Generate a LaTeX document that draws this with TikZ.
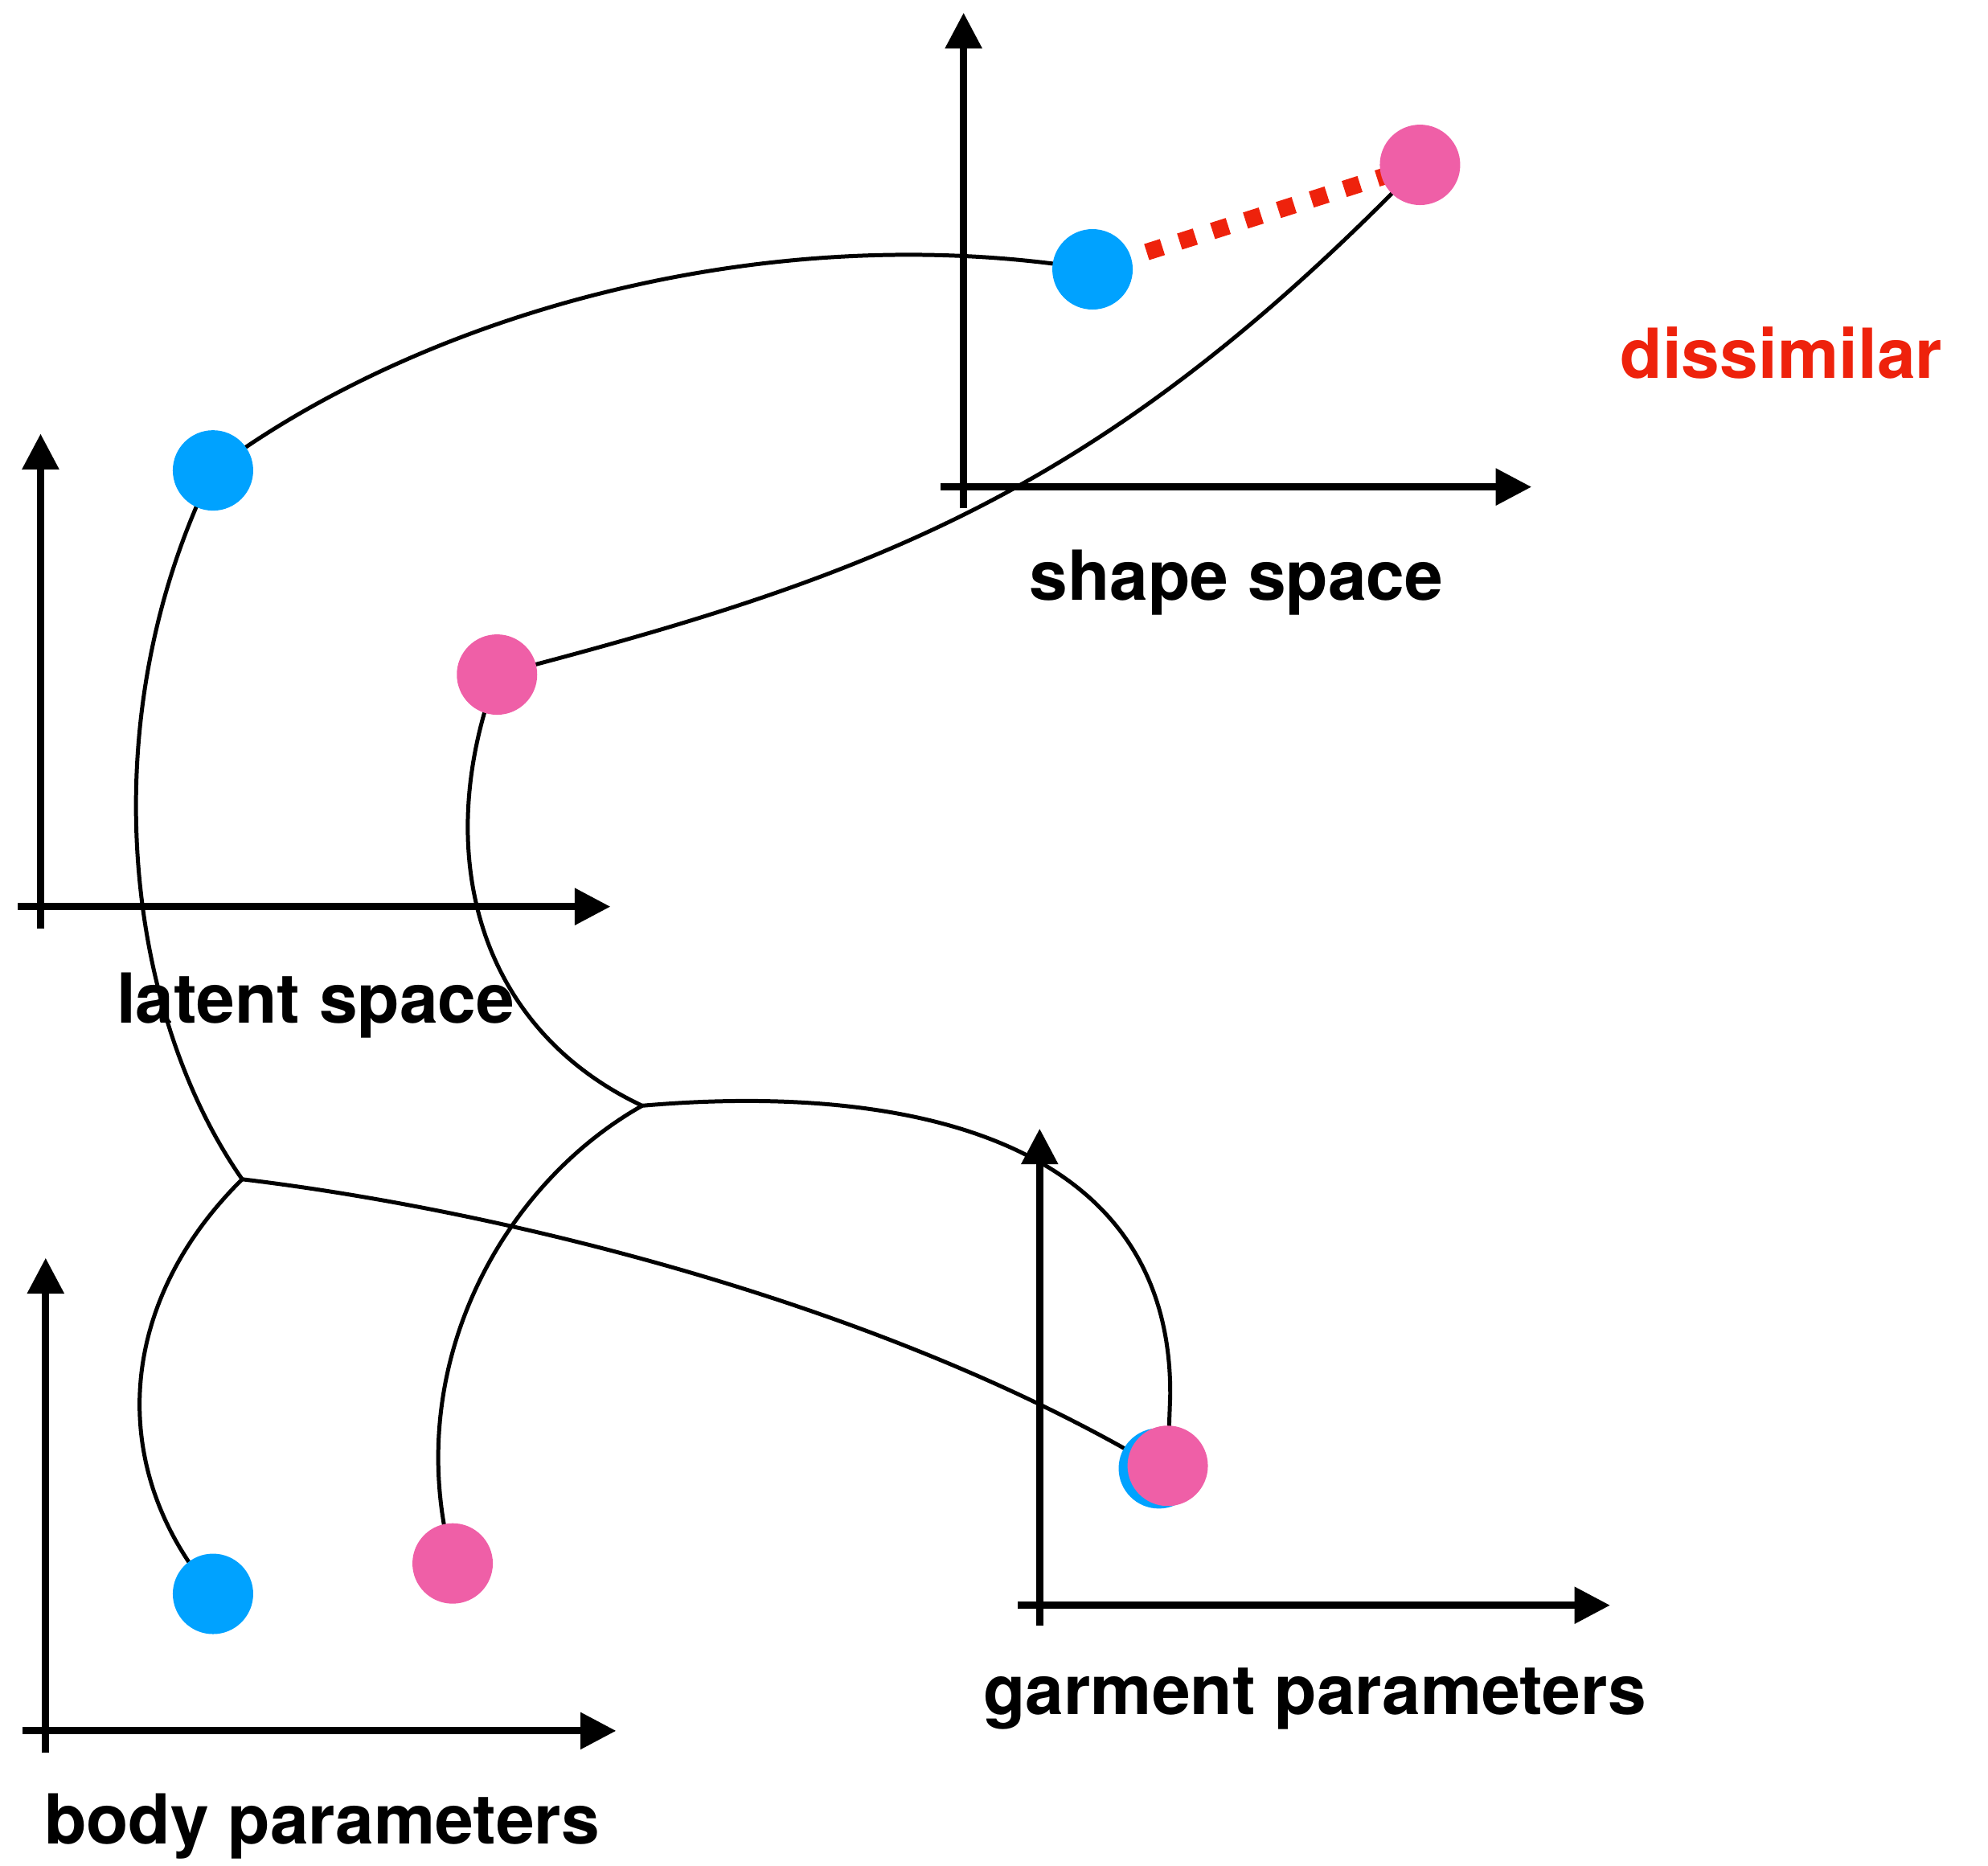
\documentclass[tikz,border=0pt]{standalone}
\usepackage{fontspec}
\setmainfont{TeX Gyre Heros}
\usetikzlibrary{arrows.meta}
\definecolor{dotblue}{HTML}{00A2FF}
\definecolor{dotpink}{HTML}{EF5FA7}
\definecolor{dissred}{HTML}{EE220C}
\begin{document}
\begin{tikzpicture}[x=0.157717mm,y=-0.157717mm,
  axisarrow/.style={line width=2.55pt,-{Triangle[length=4.45mm,width=4.4mm]}},
  link/.style={line width=1.42pt},
  bluedot/.style={circle,fill=dotblue,minimum size=10mm,inner sep=0pt},
  pinkdot/.style={circle,fill=dotpink,minimum size=10mm,inner sep=0pt},
  dissline/.style={draw=dissred,line width=5.95pt,dash pattern=on 2.05mm off 2.25mm,shorten <=7.07mm},
  lbl/.style={font=\fontsize{24.4}{29}\selectfont\bfseries,anchor=base,inner sep=0pt}]
\useasboundingbox (0,0) rectangle (1568,1471);

% ---- axes ----
% shape space
\draw[axisarrow] (760,401) -- (760,10);
\draw[axisarrow] (742,384) -- (1208,384);
% latent space
\draw[axisarrow] (32,732) -- (32,342);
\draw[axisarrow] (14,715) -- (481.5,715);
% body parameters
\draw[axisarrow] (36,1382) -- (36,992);
\draw[axisarrow] (18,1365) -- (486,1365);
% garment parameters
\draw[axisarrow] (820,1282) -- (820,890);
\draw[axisarrow] (803,1266) -- (1270,1266);

% ---- point coordinates ----
\coordinate (sb) at (861.7,212.4);
\coordinate (sp) at (1120,130);
\coordinate (lb) at (168,371);
\coordinate (lp) at (392,532);
\coordinate (bb) at (168,1257);
\coordinate (bp) at (357,1233);
\coordinate (gb) at (914,1158);
\coordinate (gp) at (921,1156);
\coordinate (j1) at (191,930);
\coordinate (j2) at (506.5,872);
\coordinate (gpin) at (923,1100);

% ---- links ----
\draw[link] (lb) .. controls (330,250) and (600,170) .. (sb);
\draw[link] (lp) .. controls (692,454) and (870,388) .. (sp);
\draw[link] (lb) .. controls (70,570) and (100,800) .. (j1);
\draw[link] (lp) .. controls (340,670) and (375,810) .. (j2);
\draw[link] (j1) .. controls (90,1030) and (85,1160) .. (bb);
\draw[link] (j1) .. controls (400,955) and (700,1030) .. (gb);
\draw[link] (j2) .. controls (395,935) and (315,1080) .. (bp);
\draw[link] (j2) .. controls (700,855) and (924,890) .. (gpin) -- (gp);

% ---- dissimilar link ----
\draw[dissline] (sb) -- (sp);

% ---- dots ----
\node[bluedot] (sbn) at (sb) {};
\node[pinkdot] (spn) at (sp) {};
\node[bluedot] (lbn) at (lb) {};
\node[pinkdot] (lpn) at (lp) {};
\node[bluedot] (bbn) at (bb) {};
\node[pinkdot] (bpn) at (bp) {};
\node[bluedot] (gbn) at (gb) {};
\node[pinkdot] (gpn) at (gp) {};

% ---- labels ----
\node[lbl] (shapelbl) at (975,473.5) {shape space};
\node[lbl] (latentlbl) at (249,807) {latent space};
\node[lbl] (bodylbl) at (254,1454) {body parameters};
\node[lbl] (garmentlbl) at (1037,1352) {garment parameters};
\node[lbl,text=dissred] (disslbl) at (1405,298) {dissimilar};
\end{tikzpicture}
\end{document}
